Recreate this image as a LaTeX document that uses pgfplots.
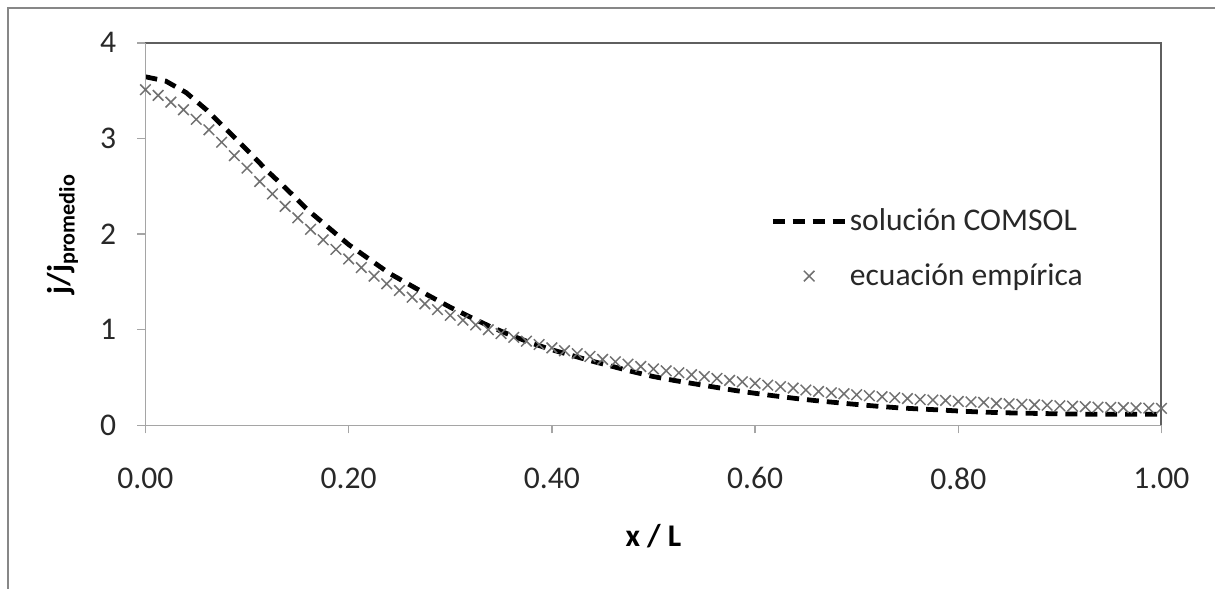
\documentclass[border=0pt]{standalone}
\usepackage{fontspec}
\setmainfont{Carlito}
\usepackage{pgfplots}
\usepackage{pgfplotstable}
\pgfplotsset{compat=1.18}
\definecolor{crossgray}{RGB}{112,112,112}
\definecolor{axisgray}{RGB}{165,165,165}
\definecolor{framegray}{RGB}{95,95,95}
\definecolor{outergray}{RGB}{135,135,135}
\definecolor{txt}{RGB}{40,40,40}

\pgfplotsset{
  dashimg/.style={legend image code/.code={\draw[##1] (0bp,0bp) -- (36.5bp,0bp);}},
  crossimg/.style={legend image code/.code={\path[draw=none] (0bp,0bp) -- (36.5bp,0bp);
     \draw[##1] plot coordinates {(18.25bp,0bp)};}},
}

\pgfplotstableread{
x y
0.00 3.645
0.02 3.60
0.04 3.48
0.06 3.30
0.08 3.09
0.10 2.88
0.12 2.66
0.14 2.46
0.16 2.25
0.18 2.07
0.20 1.89
0.22 1.74
0.24 1.59
0.26 1.47
0.28 1.35
0.30 1.235
0.32 1.13
0.34 1.03
0.36 0.94
0.38 0.86
0.40 0.79
0.42 0.73
0.44 0.67
0.46 0.615
0.48 0.56
0.50 0.51
0.52 0.47
0.54 0.435
0.56 0.40
0.58 0.365
0.60 0.335
0.62 0.307
0.64 0.281
0.66 0.258
0.68 0.238
0.70 0.218
0.72 0.200
0.74 0.184
0.76 0.172
0.78 0.162
0.80 0.150
0.82 0.140
0.84 0.133
0.86 0.128
0.88 0.124
0.90 0.120
0.92 0.117
0.94 0.115
0.96 0.115
0.98 0.115
1.00 0.117
}\comsol

\pgfplotstableread{
x y
0.0000 3.51
0.0125 3.45
0.0250 3.38
0.0375 3.30
0.0500 3.20
0.0625 3.09
0.0750 2.96
0.0875 2.82
0.1000 2.69
0.1125 2.55
0.1250 2.42
0.1375 2.29
0.1500 2.17
0.1625 2.05
0.1750 1.94
0.1875 1.84
0.2000 1.74
0.2125 1.65
0.2250 1.56
0.2375 1.48
0.2500 1.41
0.2625 1.34
0.2750 1.27
0.2875 1.21
0.3000 1.15
0.3125 1.10
0.3250 1.05
0.3375 1.00
0.3500 0.96
0.3625 0.92
0.3750 0.88
0.3875 0.845
0.4000 0.81
0.4125 0.78
0.4250 0.75
0.4375 0.72
0.4500 0.69
0.4625 0.665
0.4750 0.64
0.4875 0.615
0.5000 0.59
0.5125 0.57
0.5250 0.55
0.5375 0.53
0.5500 0.51
0.5625 0.49
0.5750 0.47
0.5875 0.455
0.6000 0.44
0.6125 0.42
0.6250 0.405
0.6375 0.39
0.6500 0.37
0.6625 0.355
0.6750 0.34
0.6875 0.33
0.7000 0.32
0.7125 0.31
0.7250 0.30
0.7375 0.29
0.7500 0.28
0.7625 0.27
0.7750 0.265
0.7875 0.26
0.8000 0.25
0.8125 0.245
0.8250 0.24
0.8375 0.23
0.8500 0.225
0.8625 0.22
0.8750 0.215
0.8875 0.21
0.9000 0.205
0.9125 0.20
0.9250 0.195
0.9375 0.19
0.9500 0.187
0.9625 0.185
0.9750 0.182
0.9875 0.18
1.0000 0.177
}\empirica

\newcommand{\chartfont}{\fontsize{15.85bp}{19bp}\selectfont}

\begin{document}
\begin{tikzpicture}
\begin{axis}[
  scale only axis, width=510bp, height=192bp,
  xmin=0, xmax=1, ymin=0, ymax=4,
  axis x line*=bottom, axis y line*=left,
  axis line style={axisgray, line width=0.75bp},
  tick style={axisgray, line width=0.75bp},
  major tick length=4bp, tick align=outside,
  xtick={0,0.2,0.4,0.6,0.8,1}, ytick={0,1,2,3,4},
  minor tick num=0,
  /pgf/number format/assume math mode=true,
  xticklabel style={/pgf/number format/fixed, /pgf/number format/fixed zerofill, /pgf/number format/precision=2},
  tick label style={font=\chartfont, text=txt},
  xticklabel style={anchor=north, inner sep=0pt, yshift=-17bp},
  yticklabel style={anchor=east, inner sep=0pt, xshift=-10.5bp},
  xlabel={\textbf{x / L}},
  ylabel={\textbf{j/j\textsubscript{promedio}}},
  label style={font=\chartfont, text=black},
  xlabel style={at={(axis description cs:0.5,-0.289)}, anchor=center},
  ylabel style={at={(axis description cs:-0.0814,0.5)}, anchor=center},
  clip=false,
  legend style={draw=none, fill=none, font=\chartfont, text=txt,
    at={(axis description cs:0.6147,0.572)}, anchor=north west,
    inner sep=0pt, row sep=13bp,
    nodes={inner sep=1bp}},
  legend cell align=left,
]
\addplot[black, line width=2.4bp, dash pattern=on 6bp off 4bp, dashimg]
  table[x=x,y=y] {\comsol};
\addlegendentry{solución COMSOL}
\addplot[only marks, mark=x, mark size=3.75bp, crossgray,
  mark options={line width=0.75bp, crossgray}, crossimg]
  table[x=x,y=y] {\empirica};
\addlegendentry{ecuación empírica}
\draw[framegray, line width=1bp] (rel axis cs:0,1) -- (rel axis cs:1,1) -- (rel axis cs:1,0);
\draw[axisgray, line width=0.75bp] (rel axis cs:0,0) -- (rel axis cs:0,1);
\draw[axisgray, line width=0.75bp] (rel axis cs:0,0) -- (rel axis cs:1,0);
\coordinate (ll) at (rel axis cs:0,0);
\end{axis}
\pgfresetboundingbox
\begin{scope}[shift={(ll)}]
\draw[outergray, line width=0.75bp] (-69bp,-82bp) -- (-69bp,209.5bp) -- (537bp,209.5bp);
\path[use as bounding box] (-73bp,-80bp) rectangle (535bp,213.5bp);
\end{scope}
\end{tikzpicture}
\end{document}
